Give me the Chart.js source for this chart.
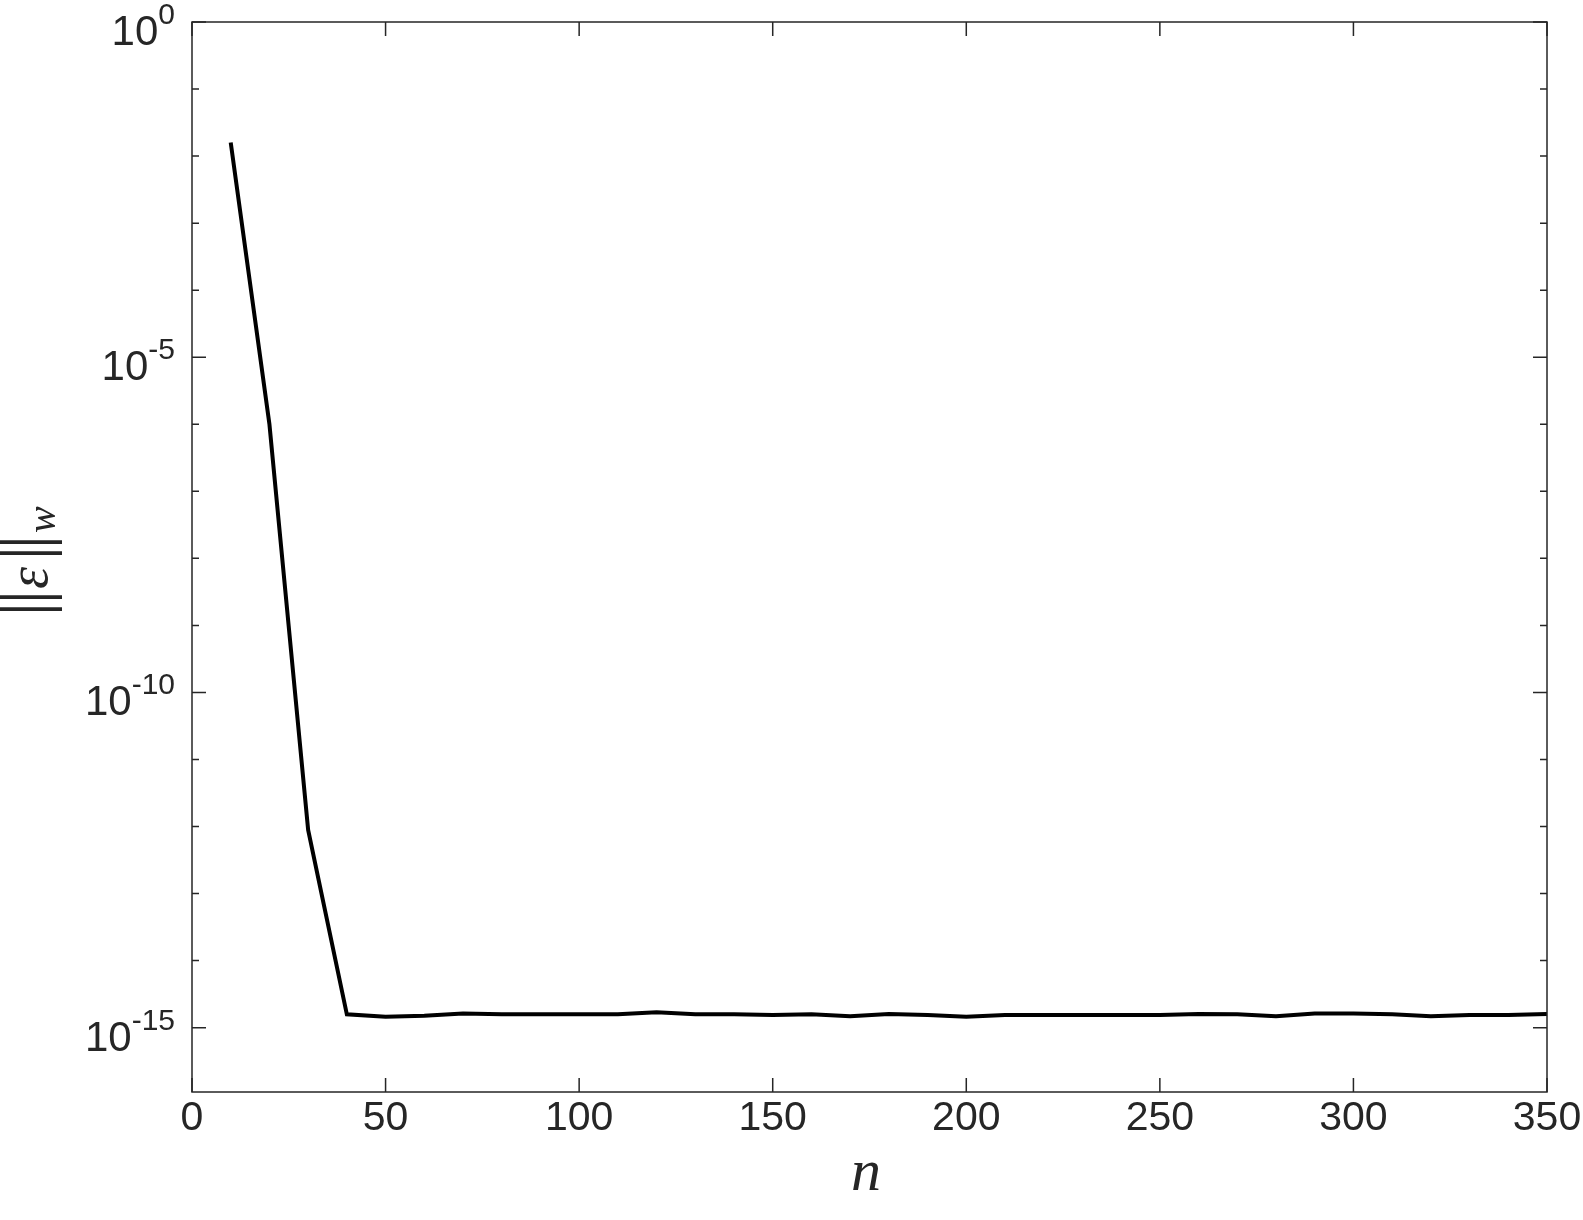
<!DOCTYPE html>
<html>
<head>
<meta charset="utf-8">
<script src="https://cdn.jsdelivr.net/npm/chart.js@4.4.1/dist/chart.umd.min.js"></script>
<style>
  html, body { margin: 0; padding: 0; background: #fff; }
  #wrap { width: 1583px; height: 1220px; }
</style>
</head>
<body>
<div id="wrap"><canvas id="errChart" width="1583" height="1220"></canvas></div>
<script>
// n values and the weighted error norm
const nValues = [10, 20, 30, 40, 50, 60, 70, 80, 90, 100, 110, 120, 130, 140, 150, 160, 170, 180,
                 190, 200, 210, 220, 230, 240, 250, 260, 270, 280, 290, 300, 310, 320, 330, 340, 350];
const errValues = [1.6e-2, 1.0e-6, 8.9e-13, 1.58e-15, 1.45e-15, 1.51e-15, 1.62e-15, 1.58e-15, 1.58e-15,
                   1.58e-15, 1.58e-15, 1.70e-15, 1.58e-15, 1.58e-15, 1.55e-15, 1.58e-15, 1.48e-15, 1.60e-15,
                   1.55e-15, 1.45e-15, 1.55e-15, 1.55e-15, 1.55e-15, 1.55e-15, 1.55e-15, 1.60e-15, 1.58e-15,
                   1.48e-15, 1.62e-15, 1.62e-15, 1.58e-15, 1.48e-15, 1.55e-15, 1.55e-15, 1.60e-15];

const xTicks = [0, 50, 100, 150, 200, 250, 300, 350];
const yTickExps = [0, -1, -2, -3, -4, -5, -6, -7, -8, -9, -10, -11, -12, -13, -14, -15];
const yLabelExps = [0, -5, -10, -15];

const axisColor = '#262626';

// draws the MATLAB-style box, inward ticks and labels
const matlabAxes = {
    id: 'matlabAxes',
    afterDatasetsDraw(chart) {
        const ctx = chart.ctx;
        const area = chart.chartArea;
        const xs = chart.scales.x;
        const ys = chart.scales.y;
        ctx.save();
        ctx.strokeStyle = axisColor;
        ctx.fillStyle = axisColor;
        ctx.lineWidth = 1.5;
        ctx.strokeRect(area.left, area.top, area.right - area.left, area.bottom - area.top);

        // x ticks, bottom and top
        ctx.beginPath();
        xTicks.forEach(v => {
            const px = xs.getPixelForValue(v);
            ctx.moveTo(px, area.bottom);
            ctx.lineTo(px, area.bottom - 14);
            ctx.moveTo(px, area.top);
            ctx.lineTo(px, area.top + 14);
        });
        // y ticks, left and right
        yTickExps.forEach(e => {
            const py = ys.getPixelForValue(Math.pow(10, e));
            const len = e % 5 === 0 ? 14 : 7;
            ctx.moveTo(area.left, py);
            ctx.lineTo(area.left + len, py);
            ctx.moveTo(area.right, py);
            ctx.lineTo(area.right - len, py);
        });
        ctx.stroke();

        // x tick labels
        ctx.font = '41px "Liberation Sans", Arial, sans-serif';
        ctx.textAlign = 'center';
        ctx.textBaseline = 'alphabetic';
        xTicks.forEach(v => {
            ctx.fillText(String(v), xs.getPixelForValue(v), 1130);
        });

        // y tick labels as 10 with a superscript exponent
        yLabelExps.forEach(e => {
            const py = ys.getPixelForValue(Math.pow(10, e));
            const sup = e === 0 ? '0' : '-' + Math.abs(e);
            ctx.font = '30px "Liberation Sans", Arial, sans-serif';
            const supW = ctx.measureText(sup).width;
            ctx.font = '42px "Liberation Sans", Arial, sans-serif';
            const baseW = ctx.measureText('10').width;
            const right = 175;
            ctx.textAlign = 'left';
            ctx.fillText('10', right - supW - baseW, py + 23);
            ctx.font = '30px "Liberation Sans", Arial, sans-serif';
            ctx.fillText(sup, right - supW, py + 2);
        });

        // x axis title
        ctx.font = 'italic 60px "Liberation Serif", "Times New Roman", serif';
        ctx.textAlign = 'center';
        ctx.fillText('n', 866, 1190);

        // y axis title ||eps||_w, rotated (reads bottom to top)
        ctx.translate(47, 557);
        ctx.rotate(-Math.PI / 2);
        const barFont = '74px "Liberation Serif", serif';
        ctx.font = barFont;
        ctx.textAlign = 'center';
        ctx.fillText('|', -52, -1);
        ctx.fillText('|', -40, -1);
        ctx.font = 'italic 56px "Liberation Serif", serif';
        ctx.textAlign = 'left';
        ctx.fillText('\u03b5', -32, 0);
        ctx.font = barFont;
        ctx.textAlign = 'center';
        ctx.fillText('|', 4, -1);
        ctx.fillText('|', 15, -1);
        ctx.font = 'italic 40px "Liberation Serif", serif';
        ctx.textAlign = 'left';
        ctx.fillText('w', 24, 8);
        ctx.restore();
    }
};

new Chart(document.getElementById('errChart'), {
    type: 'line',
    data: {
        datasets: [{
            data: nValues.map((n, i) => ({ x: n, y: errValues[i] })),
            borderColor: '#000000',
            borderWidth: 4,
            pointRadius: 0,
            tension: 0,
            fill: false
        }]
    },
    options: {
        responsive: false,
        animation: false,
        devicePixelRatio: 1,
        layout: { padding: { left: 192, right: 36, top: 22, bottom: 128 } },
        plugins: {
            legend: { display: false },
            tooltip: { enabled: false }
        },
        scales: {
            x: {
                type: 'linear',
                min: 0,
                max: 350,
                display: false
            },
            y: {
                type: 'logarithmic',
                min: Math.pow(10, -15.96),
                max: 1,
                display: false
            }
        }
    },
    plugins: [matlabAxes]
});
</script>
</body>
</html>
